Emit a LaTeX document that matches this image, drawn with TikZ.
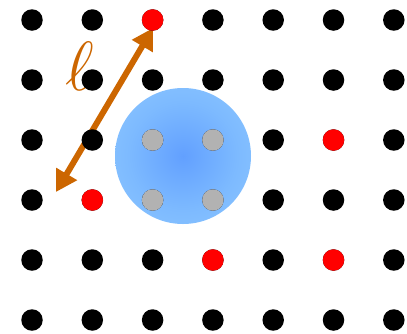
\documentclass[tikz,border=0pt]{standalone}
\usepackage{amsmath}
\usetikzlibrary{arrows.meta}
\definecolor{ellorange}{RGB}{204,102,0}
\definecolor{glowA}{RGB}{98,160,255}
\definecolor{glowB}{RGB}{125,186,255}
\definecolor{glowC}{RGB}{140,198,255}
\definecolor{glowD}{RGB}{194,213,236}
\pgfdeclareradialshading{glow}{\pgfpoint{0bp}{0bp}}{color(0bp)=(glowA); color(20bp)=(glowB); color(35bp)=(glowC); color(50bp)=(glowD)}

\begin{document}
\begin{tikzpicture}[x=1pt, y=-1pt,
    dot/.style={circle, fill=#1, inner sep=0pt, minimum size=21.5pt},
    dot/.default=black,
    ellarr/.style={{Triangle[length=21pt,width=23pt]}-{Triangle[length=21pt,width=23pt]}, line width=6pt, ellorange}]
  \useasboundingbox (0,0) rectangle (407,333);
  \coordinate (c) at (183,156);
  \shade[shading=glow] (c) circle (68pt);
  \coordinate (lo) at (56,192);
  \coordinate (hi) at (153,28);
  \draw[ellarr] (lo) -- (hi);
  \node[text=ellorange, font=\Huge, scale=2.8] (ell) at (80,66) {$\ell$};
  \foreach \i in {1,...,7}
    \foreach \j in {1,...,6}
      \node[dot] (d-\i-\j) at ({32+60.3*(\i-1)}, {20+60*(\j-1)}) {};
  % red and gray ones on top
  \foreach \i/\j in {3/1, 6/3, 2/4, 4/5, 6/5}
    \node[dot=red] at (d-\i-\j) {};
  \foreach \i/\j in {3/3, 4/3, 3/4, 4/4}
    \node[dot=black!30] at (d-\i-\j) {};
\end{tikzpicture}
\end{document}
